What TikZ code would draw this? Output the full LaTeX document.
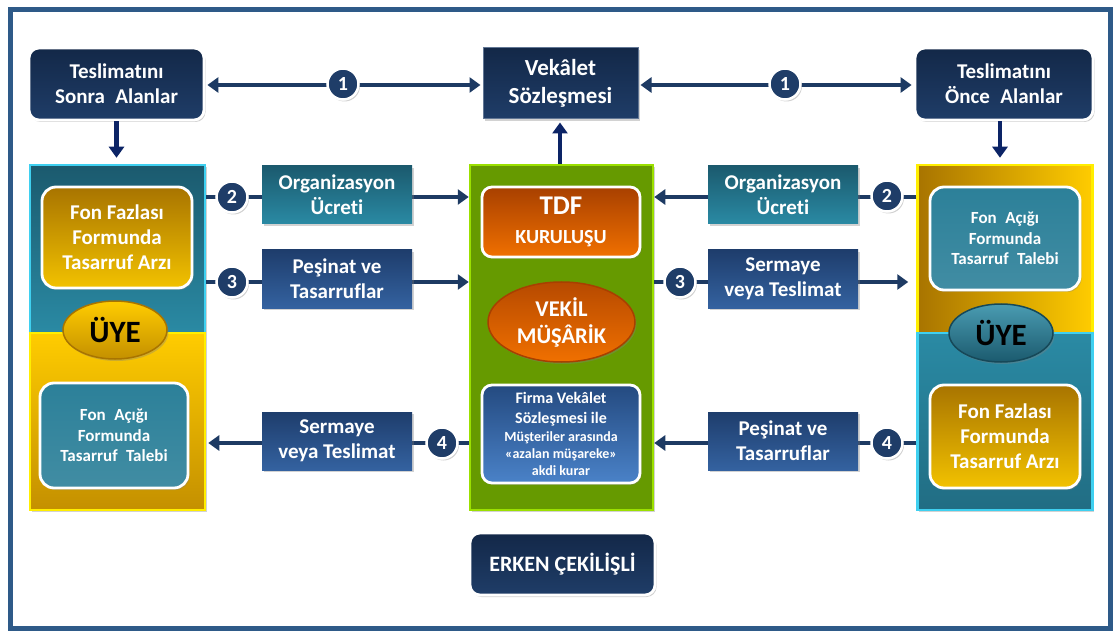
\documentclass[tikz,border=0pt]{standalone}
\usepackage{fontspec}
\setmainfont{Carlito}[Ligatures=NoCommon]
\usetikzlibrary{arrows.meta,shapes.geometric,shadows}

\definecolor{frameC}{HTML}{2E5A88}
\definecolor{navyA}{HTML}{132848}
\definecolor{navyB}{HTML}{1F3D68}
\definecolor{lineC}{HTML}{1D3A63}
\definecolor{arrowV}{HTML}{0C2466}
\definecolor{tealA}{HTML}{1B5A6E}
\definecolor{tealB}{HTML}{2A8AA4}
\definecolor{tealM}{HTML}{2C8099}
\definecolor{goldA}{HTML}{FFCC00}
\definecolor{goldB}{HTML}{C49000}
\definecolor{goldD}{HTML}{A87400}
\definecolor{goldL}{HTML}{F2C200}
\definecolor{yellowB}{HTML}{FFEE00}
\definecolor{cyanB}{HTML}{3FD0F0}
\definecolor{greenF}{HTML}{669A00}
\definecolor{greenB}{HTML}{9BE000}
\definecolor{orangeA}{HTML}{A84000}
\definecolor{orangeB}{HTML}{F07000}
\definecolor{blueA}{HTML}{244A80}
\definecolor{blueB}{HTML}{4A82C8}
\definecolor{lblBlueA}{HTML}{1E3D6C}
\definecolor{lblBlueB}{HTML}{3462A0}

\newcommand\boldsize[1]{\bfseries\fontsize{#1}{\the\dimexpr#1pt*120/100\relax}\selectfont}

\tikzset{
  shd/.style={drop shadow={shadow xshift=1.5pt,shadow yshift=-2pt,opacity=0.35}},
  txt/.style={text=white,font=\boldsize{#1},align=center},
  whitebox/.style={draw=white,line width=2.8pt,rounded corners=10pt,inner sep=0pt,shd},
  navybox/.style={whitebox,top color=navyA,bottom color=navyB,txt=21},
  colpart/.style={line width=2.5pt,inner sep=0pt,shd},
  lbl/.style={inner sep=0pt,minimum width=150pt,minimum height=58pt,txt=21,shd},
  lblteal/.style={lbl,top color=tealA,bottom color=tealB},
  lblblue/.style={lbl,top color=lblBlueA,bottom color=lblBlueB},
  num/.style={circle,fill=navyB,draw=white,line width=2.5pt,minimum size=31pt,
    inner sep=0pt,txt=20,shd},
  conn/.style={line width=4.5pt,draw=lineC},
  tipE/.style={-{Triangle[width=15pt,length=11pt]}},
  tipB/.style={{Triangle[width=15pt,length=11pt]}-{Triangle[width=15pt,length=11pt]}},
  vconn/.style={line width=4.5pt,draw=arrowV,-{Triangle[width=15pt,length=11pt]}},
  member/.style={ellipse,inner sep=0pt,minimum width=104pt,minimum height=58pt,line width=1.5pt,
    font=\boldsize{31},text=black,shd},
}

\begin{document}
\begin{tikzpicture}[x=1pt,y=-1pt]
\useasboundingbox (0,0) rectangle (1117,631);
\fill[white] (0,0) rectangle (1117,631);
% outer frame
\draw[frameC,line width=5pt] (10,10) rectangle (1110,628);

% left member column
\node[colpart,top color=tealA,bottom color=tealB,draw=cyanB,minimum width=175pt,minimum height=168pt] (lcolA) at (117.5,249) {};
\node[colpart,top color=goldA,bottom color=goldB,draw=yellowB,minimum width=175pt,minimum height=177pt] (lcolB) at (117.5,421.5) {};
% right member column
\node[colpart,left color=goldD,right color=goldA,draw=yellowB,minimum width=175pt,minimum height=168pt] (rcolA) at (1005,249) {};
\node[colpart,top color=tealB,bottom color=tealA!60!tealB,draw=cyanB,minimum width=175pt,minimum height=177pt] (rcolB) at (1005,421.5) {};

% central column
\node[colpart,fill=greenF,draw=greenB,minimum width=183pt,minimum height=345pt] (grn) at (561.5,337.5) {};

% boxes inside the columns
\node[whitebox,rounded corners=14pt,top color=goldD,bottom color=goldL,minimum width=150pt,minimum height=101pt,txt=21] (ffL) at (117,237.5) {Fon Fazlası\\Formunda\\Tasarruf Arzı};
\node[whitebox,rounded corners=14pt,top color=tealM,bottom color=tealM!90!white,minimum width=148pt,minimum height=105pt,txt=17] (faL) at (114,435.5) {Fon\enspace Açığı\\Formunda\\Tasarruf\enspace Talebi};
\node[whitebox,rounded corners=14pt,top color=tealM,bottom color=tealM!90!white,minimum width=150pt,minimum height=103pt,txt=17] (faR) at (1005,238.5) {Fon\enspace Açığı\\Formunda\\Tasarruf\enspace Talebi};
\node[whitebox,rounded corners=14pt,top color=goldD,bottom color=goldL,minimum width=150pt,minimum height=103pt,txt=21] (ffR) at (1005,436.5) {Fon Fazlası\\Formunda\\Tasarruf Arzı};

\node[member,top color=goldA,bottom color=goldB,draw=goldD] (uyeL) at (115,330) {ÜYE};
\node[member,top color=tealB!85!white,bottom color=tealA,draw=tealA!80!black] (uyeR) at (1001,333) {ÜYE};

\node[whitebox,top color=orangeA,bottom color=orangeB,minimum width=158pt,minimum height=70pt,txt=21] (tdf) at (561,222)
  {\boldsize{27}TDF\\[4pt]\boldsize{20}KURULUŞU};
\node[ellipse,inner sep=0pt,minimum width=147pt,minimum height=80pt,top color=orangeA!80!orangeB,bottom color=orangeB,
  draw=orangeA,line width=1.5pt,txt=22.5,shd] (vekil) at (561.5,322) {VEKİL\\MÜŞÂRİK};
\node[whitebox,top color=blueA,bottom color=blueB,minimum width=158pt,minimum height=98pt,txt=16] (firma) at (561,434)
  {Firma Vekâlet\\[1pt]
   Sözleşmesi ile\\[-1pt]
   \boldsize{14}Müşteriler arasında\\[-2pt]
   \boldsize{14}«azalan müşareke»\\[-2pt]
   \boldsize{14}akdi kurar};

% top row
\node[navybox,minimum width=175pt,minimum height=72pt] (tsa) at (116.5,84) {Teslimatını\\Sonra\enspace Alanlar};
\node[navybox,minimum width=178pt,minimum height=72pt] (toa) at (1004,84) {Teslimatını\\Önce\enspace Alanlar};
\node[inner sep=0pt,top color=navyA,bottom color=navyB,draw=navyB!70!white,line width=1pt,minimum width=155pt,minimum height=71pt,txt=23,shd] (vek) at (560.5,83.5) {Vekâlet\\Sözleşmesi};

\node[navybox,minimum width=185pt,minimum height=62pt,txt=22] (erken) at (562.5,564) {ERKEN ÇEKİLİŞLİ};

% row levels of the flows
\coordinate (r1) at (0,85);
\coordinate (r2) at (0,197);
\coordinate (r3) at (0,282);
\coordinate (r4) at (0,443);
\coordinate (vR) at (1000,0);
\coordinate (vM) at (560,0);

% connectors
\draw[conn,tipB,shorten <=2pt,shorten >=2pt] (vek.west |- r1) -- (tsa.east |- r1);
\draw[conn,tipB,shorten <=2pt,shorten >=2pt] (vek.east |- r1) -- (toa.west |- r1);
\draw[vconn,shorten >=6pt] (tsa.south) -- (lcolA.north -| tsa.south);
\draw[vconn,shorten >=6pt] (toa.south -| vR) -- (rcolA.north -| vR);
\draw[vconn,shorten >=3pt] (grn.north -| vM) -- (vek.south -| vM);

\draw[conn,tipE] (lcolA.east |- r2) -- (grn.west |- r2);
\draw[conn,tipE] (lcolA.east |- r3) -- (grn.west |- r3);
\draw[conn,tipE,shorten >=2pt] (grn.west |- r4) -- (lcolB.east |- r4);
\draw[conn,tipE] (rcolA.west |- r2) -- (grn.east |- r2);
\draw[conn,tipE,shorten >=8pt] (grn.east |- r3) -- (rcolA.west |- r3);
\draw[conn,tipE] (rcolB.west |- r4) -- (grn.east |- r4);

% flow labels
\node[lblteal] (orgL) at (337,195) {Organizasyon\\Ücreti};
\node[lblblue] (pesL) at (337,279) {Peşinat ve\\Tasarruflar};
\node[lblblue] (serL) at (337,441) {Sermaye\\veya Teslimat};
\node[lblteal] (orgR) at (783,195) {Organizasyon\\Ücreti};
\node[lblblue] (serR) at (783,279) {Sermaye\\veya Teslimat};
\node[lblblue] (pesR) at (783,441) {Peşinat ve\\Tasarruflar};

% step numbers
\node[num] (n1L) at (343,84) {1};
\node[num] (n1R) at (785,84) {1};
\node[num] (n2L) at (232,197) {2};
\node[num] (n3L) at (232,282) {3};
\node[num] (n4L) at (442,443) {4};
\node[num] (n2R) at (887,196) {2};
\node[num] (n3R) at (680,282) {3};
\node[num] (n4R) at (887,443) {4};
\end{tikzpicture}
\end{document}
